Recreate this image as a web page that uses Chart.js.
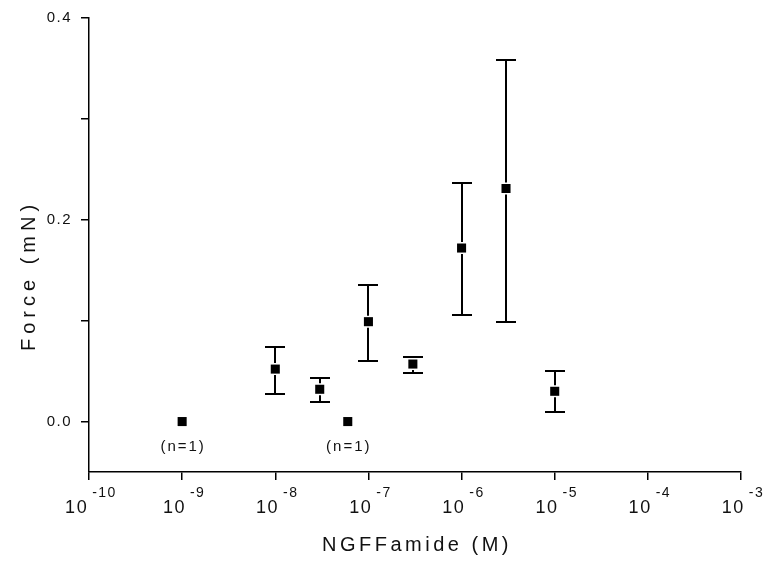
<!DOCTYPE html>
<html>
<head>
<meta charset="utf-8">
<script src="https://cdn.jsdelivr.net/npm/chart.js@4"></script>
<style>
  html, body { margin: 0; padding: 0; background: #fff; }
  #wrap { width: 773px; height: 562px; }
</style>
</head>
<body>
<div id="wrap"><canvas id="forceChart"></canvas></div>
<script>
// NGFFamide concentration (M) vs force (mN), mean with error bars
const conc = [1e-9, 1e-8, 3e-8, 6e-8, 1e-7, 3e-7, 1e-6, 3e-6, 1e-5];
const force = [0.0, 0.052, 0.032, 0.0, 0.099, 0.057, 0.172, 0.231, 0.030];
const errLow = [null, 0.027, 0.019, null, 0.060, 0.048, 0.106, 0.099, 0.009];
const errHigh = [null, 0.074, 0.043, null, 0.135, 0.064, 0.236, 0.358, 0.050];
const notes = ["(n=1)", "", "", "(n=1)", "", "", "", "", ""];

const xTickExponents = [-10, -9, -8, -7, -6, -5, -4, -3];
const yTickValues = [0, 0.1, 0.2, 0.3, 0.4];
const yTickLabels = ["0.0", "", "0.2", "", "0.4"];

const xTitle = "NGFFamide (M)";
const yTitle = "Force (mN)";

const FONT = "'Liberation Sans', Arial, sans-serif";
const INK = "#111";

(function () {
  if (typeof Chart === "undefined") {
    return;
  }

  const spacing = {
    id: "spacing",
    beforeDraw(chart) {
      chart.ctx.letterSpacing = "1.5px";
    },
  };

  const errorBars = {
    id: "errorBars",
    afterDatasetsDraw(chart) {
      const { ctx } = chart;
      const x = chart.scales.x;
      const y = chart.scales.y;
      const cap = 10;
      const gap = 6;
      ctx.save();
      ctx.strokeStyle = "#000";
      ctx.lineWidth = 2;
      conc.forEach((c, i) => {
        if (errLow[i] == null || errHigh[i] == null) return;
        const px = Math.round(x.getPixelForValue(c));
        const py = y.getPixelForValue(force[i]);
        const top = Math.round(y.getPixelForValue(errHigh[i]));
        const bot = Math.round(y.getPixelForValue(errLow[i]));
        ctx.beginPath();
        ctx.moveTo(px, top);
        ctx.lineTo(px, py - gap);
        ctx.moveTo(px, py + gap);
        ctx.lineTo(px, bot);
        ctx.moveTo(px - cap, top);
        ctx.lineTo(px + cap, top);
        ctx.moveTo(px - cap, bot);
        ctx.lineTo(px + cap, bot);
        ctx.stroke();
      });
      ctx.restore();
    },
  };

  const labels = {
    id: "labels",
    afterDraw(chart) {
      const { ctx, chartArea } = chart;
      const x = chart.scales.x;
      ctx.save();
      ctx.fillStyle = INK;

      // x tick labels: 10 with superscript exponent
      xTickExponents.forEach((e) => {
        const px = x.getPixelForValue(Math.pow(10, e));
        ctx.letterSpacing = "1.5px";
        ctx.font = "18px " + FONT;
        const w10 = ctx.measureText("10").width;
        ctx.font = "14px " + FONT;
        const sup = String(e);
        const wSup = ctx.measureText(sup).width;
        const total = w10 + 4 + wSup;
        const left = px + 2 - total / 2;
        ctx.textAlign = "left";
        ctx.textBaseline = "alphabetic";
        ctx.font = "18px " + FONT;
        ctx.fillText("10", left, 513);
        ctx.font = "14px " + FONT;
        ctx.fillText(sup, left + w10 + 4, 497);
      });

      // (n=1) notes under the single points
      ctx.font = "15px " + FONT;
      ctx.letterSpacing = "2px";
      ctx.textAlign = "center";
      conc.forEach((c, i) => {
        if (!notes[i]) return;
        const px = x.getPixelForValue(c);
        ctx.fillText(notes[i], px + 1, 451);
      });

      // axis titles
      ctx.font = "20px " + FONT;
      ctx.letterSpacing = "3.5px";
      ctx.fillText(xTitle, (chartArea.left + chartArea.right) / 2 + 2, 551);

      ctx.save();
      ctx.translate(35, 278);
      ctx.rotate(-Math.PI / 2);
      ctx.letterSpacing = "5px";
      ctx.fillText(yTitle, 2.5, 0);
      ctx.restore();

      ctx.restore();
    },
  };

  const el = document.getElementById("forceChart");
  new Chart(el, {
    type: "scatter",
    data: {
      datasets: [
        {
          label: "Force",
          data: conc.map((c, i) => ({ x: c, y: force[i] })),
          pointStyle: "rect",
          pointRadius: 6.4,
          pointBackgroundColor: "#000",
          pointBorderWidth: 0,
          showLine: false,
        },
      ],
    },
    options: {
      responsive: true,
      maintainAspectRatio: false,
      animation: false,
      events: [],
      layout: { padding: { top: 16, right: 32, bottom: 0, left: 0 } },
      plugins: {
        legend: { display: false },
        tooltip: { enabled: false },
      },
      scales: {
        x: {
          type: "logarithmic",
          min: 1e-10,
          max: 1e-3,
          afterBuildTicks: (scale) => {
            scale.ticks = xTickExponents.map((e) => ({ value: Math.pow(10, e) }));
          },
          afterFit: (scale) => {
            scale.height = 90;
          },
          ticks: { display: false },
          grid: {
            drawOnChartArea: false,
            drawTicks: true,
            tickLength: 8,
            color: "#000",
            lineWidth: 1.5,
          },
          border: { display: true, color: "#000", width: 1.5 },
        },
        y: {
          type: "linear",
          min: -0.05,
          max: 0.4,
          afterBuildTicks: (scale) => {
            scale.ticks = yTickValues.map((v) => ({ value: v }));
          },
          afterFit: (scale) => {
            scale.width = 89;
          },
          ticks: {
            color: INK,
            padding: 9,
            font: { family: FONT, size: 15 },
            callback: (value) => {
              const idx = yTickValues.findIndex((v) => Math.abs(v - value) < 1e-9);
              return idx >= 0 ? yTickLabels[idx] : "";
            },
          },
          grid: {
            drawOnChartArea: false,
            drawTicks: true,
            tickLength: 8,
            color: "#000",
            lineWidth: 1.5,
          },
          border: { display: true, color: "#000", width: 1.5 },
        },
      },
    },
    plugins: [spacing, errorBars, labels],
  });
})();
</script>
</body>
</html>
